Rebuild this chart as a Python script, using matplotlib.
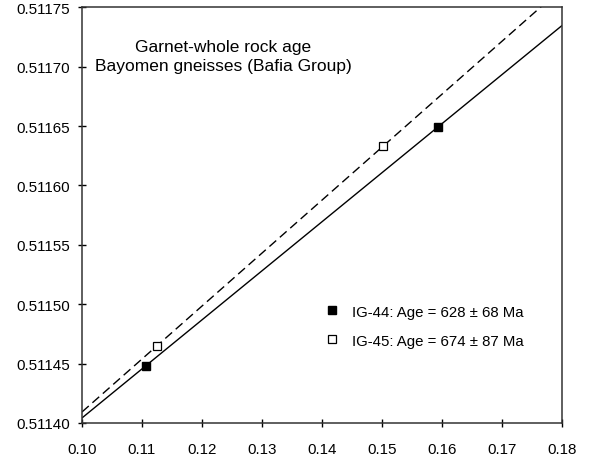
import numpy as np
import matplotlib
matplotlib.use("Agg")
import matplotlib.pyplot as plt

plt.rcParams['font.family'] = ['Liberation Sans', 'DejaVu Sans']

# Data
ig44_x = [0.1106, 0.1593]
ig44_y = [0.511448, 0.511649]
ig45_x = [0.1125, 0.1502]
ig45_y = [0.511465, 0.511633]

label44 = "IG-44: Age = 628 \u00b1 68 Ma"
label45 = "IG-45: Age = 674 \u00b1 87 Ma"
title_lines = ["Garnet-whole rock age", "Bayomen gneisses (Bafia Group)"]

x_ticks = [0.10, 0.11, 0.12, 0.13, 0.14, 0.15, 0.16, 0.17, 0.18]
y_ticks = [0.51140, 0.51145, 0.51150, 0.51155, 0.51160, 0.51165, 0.51170, 0.51175]

fig = plt.figure(figsize=(5.9, 4.56), dpi=100)
W, H = 590, 456
ax = fig.add_axes([82 / W, (H - 424) / H, (561.7 - 82) / W, (424 - 8.3) / H])

# isochron lines through the two points of each sample
xl = np.array([0.10, 0.18])
p44 = np.polyfit(ig44_x, ig44_y, 1)
p45 = np.polyfit(ig45_x, ig45_y, 1)
ax.plot(xl, np.polyval(p44, xl), color='black', lw=1.0, zorder=2)
ax.plot(xl, np.polyval(p45, xl), color='black', lw=1.0, dashes=(6.5, 3.5), zorder=2)

ax.plot(ig44_x, ig44_y, linestyle='none', marker='s', markersize=6,
        markerfacecolor='black', markeredgecolor='black', label=label44, zorder=3)
ax.plot(ig45_x, ig45_y, linestyle='none', marker='s', markersize=5.5,
        markerfacecolor='white', markeredgecolor='black', markeredgewidth=0.9,
        label=label45, zorder=3)

ax.set_xlim(0.10, 0.18)
ax.set_ylim(0.51140, 0.51175)
ax.set_xticks(x_ticks)
ax.set_xticklabels([f"{v:.2f}" for v in x_ticks])
ax.set_yticks(y_ticks)
ax.set_yticklabels([f"{v:.5f}" for v in y_ticks])
ax.tick_params(axis='both', direction='inout', length=6, width=1.0,
               labelsize=10.9, colors='black')
ax.tick_params(axis='x', pad=10.5)
ax.tick_params(axis='y', pad=5.5)
for s in ax.spines.values():
    s.set_linewidth(1.1)
    s.set_color('#333333')

ax.text(0.294, 0.8956, title_lines[0], transform=ax.transAxes,
        ha='center', va='baseline', fontsize=12.5)
ax.text(0.294, 0.8492, title_lines[1], transform=ax.transAxes,
        ha='center', va='baseline', fontsize=12.5)

ax.legend(loc='center left', bbox_to_anchor=(0.5049, 0.2329), frameon=False,
          borderpad=0, borderaxespad=0, handlelength=1.0, handletextpad=0.83,
          labelspacing=1.0, fontsize=10.8, numpoints=1)

fig.savefig("out.png", dpi=100)
